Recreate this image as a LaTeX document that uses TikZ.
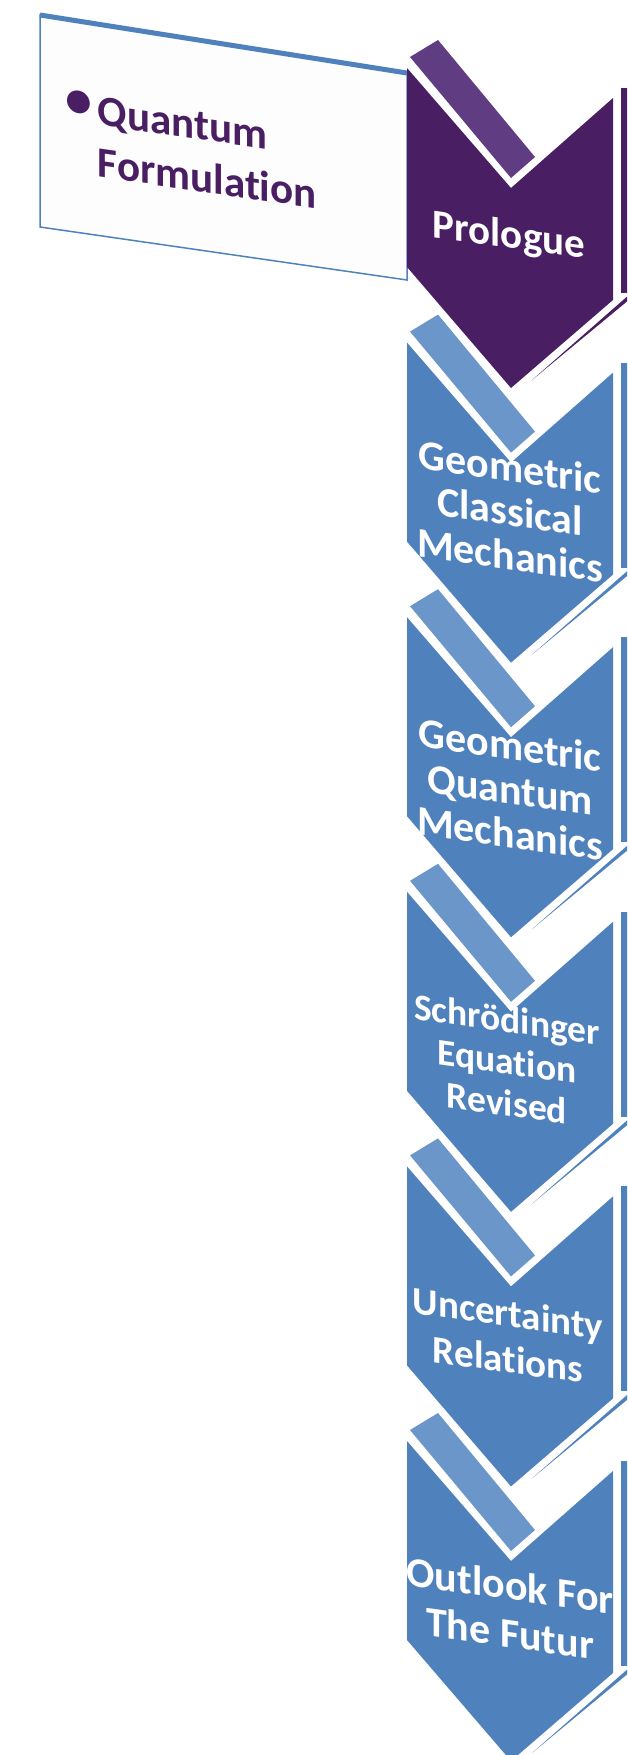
\documentclass[tikz,border=0pt]{standalone}
\usepackage{fontspec}
\setmainfont{Carlito}[Ligatures=NoCommon]
\usetikzlibrary{positioning}
\definecolor{StagePurple}{RGB}{74,30,98}
\definecolor{BarPurple}{RGB}{96,60,130}
\definecolor{StageBlue}{RGB}{79,129,189}
\definecolor{BarBlue}{RGB}{106,150,201}
\definecolor{NoteFill}{RGB}{253,253,253}
\tikzset{
  stagetext/.style={text=white,font=\bfseries\fontsize{42}{44}\selectfont,
    align=center,yslant=-0.14,inner sep=0pt},
  notetext/.style={text=StagePurple,font=\bfseries\fontsize{43}{52}\selectfont,
    yslant=-0.145,inner sep=0pt},
  notebox/.style={fill=NoteFill,draw=StageBlue,line width=1.5pt},
  noteedge/.style={draw=StageBlue,line width=5pt}
}

\begin{document}
\begin{tikzpicture}[x=1pt,y=-1pt]
  \useasboundingbox (0,0) rectangle (627,1755);
  \clip (0,0) rectangle (627,1755);

  % text box behind the first stage
  \filldraw[notebox] (40,15) -- (407,73) -- (407,280) -- (40,227) -- cycle;
  \draw[noteedge] (40,15) -- (407,73);
  \node[notetext,anchor=base west] (note) at (65,120)
    {\begin{tabular}[t]{@{}l@{\hspace{6pt}}l@{}}\raisebox{5pt}{\scalebox{1.25}{•}} & Quantum\\
      & Formulation\end{tabular}};

  % chevrons
  \foreach \i/\col/\bar in {0/StagePurple/BarPurple,1/StageBlue/BarBlue,
      2/StageBlue/BarBlue,3/StageBlue/BarBlue,4/StageBlue/BarBlue,5/StageBlue/BarBlue}{
    \pgfmathsetmacro\y{68+274.6*\i}
    \fill[\col] (407,\y) -- (511,\y+120) -- (613,\y+30) -- (613,\y+232)
      -- (511,\y+320) -- (407,\y+199) -- cycle;
    \fill[\bar] (410,\y-11) -- (438,\y-28) -- (535,\y+89) -- (511,\y+110) -- cycle;
    \fill[\col] (621,\y+20) rectangle (630,\y+225);
    \fill[\col] (532,\y+312) -- (630,\y+226) -- (630,\y+231) -- cycle;
  }

  \node[stagetext,font=\bfseries\fontsize{41}{44}\selectfont] (prologue) at (509,237) {Prologue};
  \node[stagetext] (classical) at (510,511) {Geometric\\Classical\\Mechanics};
  \node[stagetext] (quantum) at (510,789) {Geometric\\Quantum\\Mechanics};
  \node[stagetext,font=\bfseries\fontsize{37.5}{42}\selectfont] (schroedinger) at (507,1061)
    {Schrödinger\\Equation\\Revised};
  \node[stagetext,font=\bfseries\fontsize{39}{46}\selectfont] (uncertainty) at (508,1336)
    {Uncertainty\\Relations};
  \node[stagetext,font=\bfseries\fontsize{42}{48}\selectfont] (outlook) at (510,1609)
    {Outlook For\\The Futur};
\end{tikzpicture}
\end{document}
